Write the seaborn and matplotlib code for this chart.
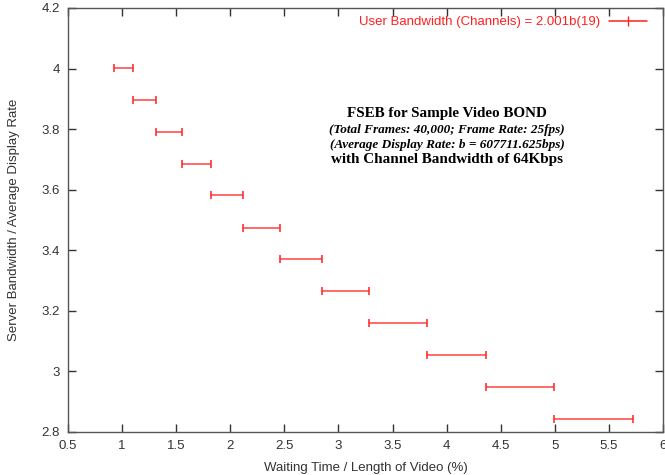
import matplotlib
matplotlib.use("Agg")
import matplotlib.pyplot as plt
import seaborn as sns
import pandas as pd
from matplotlib.lines import Line2D

# Data
ratio = [4.002, 3.897, 3.791, 3.686, 3.581, 3.475, 3.370, 3.265, 3.159, 3.054, 2.949, 2.843]
wait_low = [0.927, 1.100, 1.312, 1.553, 1.818, 2.115, 2.460, 2.850, 3.286, 3.815, 4.360, 4.988]
wait_high = [1.100, 1.312, 1.553, 1.818, 2.115, 2.460, 2.850, 3.286, 3.815, 4.360, 4.988, 5.723]

x_ticks = [0.5, 1, 1.5, 2, 2.5, 3, 3.5, 4, 4.5, 5, 5.5, 6]
x_tick_labels = ["0.5", "1", "1.5", "2", "2.5", "3", "3.5", "4", "4.5", "5", "5.5", "6"]
y_ticks = [2.8, 3, 3.2, 3.4, 3.6, 3.8, 4, 4.2]
y_tick_labels = ["2.8", "3", "3.2", "3.4", "3.6", "3.8", "4", "4.2"]

legend_label = "User Bandwidth (Channels) = 2.001b(19)"
title_lines = [
    ("FSEB for Sample Video BOND", "normal", 10.9),
    ("(Total Frames: 40,000; Frame Rate: 25fps)", "italic", 9.5),
    ("(Average Display Rate: b = 607711.625bps)", "italic", 9.5),
    ("with Channel Bandwidth of 64Kbps", "normal", 10.9),
]

df = pd.DataFrame({"low": wait_low, "high": wait_high, "ratio": ratio})
ends = pd.DataFrame({"x": wait_low + wait_high, "y": ratio + ratio})

sns.set_theme(style="white")
plt.rcParams["font.family"] = ["Liberation Sans", "DejaVu Sans"]

fig = plt.figure(figsize=(6.65, 4.75), dpi=100)
ax = fig.add_axes([68 / 665, 1 - 432 / 475, (663 - 68) / 665, (432 - 8) / 475])

red = "#ff2020"
ax.hlines(df["ratio"], df["low"], df["high"], color=red, lw=1.1, alpha=0.85)
sns.scatterplot(data=ends, x="x", y="y", marker="|", s=30, color=red,
                linewidth=1.1, ax=ax, legend=False, zorder=3)

ax.set_xlim(0.5, 6)
ax.set_ylim(2.8, 4.2)
ax.set_xticks(x_ticks)
ax.set_xticklabels(x_tick_labels)
ax.set_yticks(y_ticks)
ax.set_yticklabels(y_tick_labels)
ax.tick_params(direction="in", length=6, width=1, color="#333333",
               labelsize=9.5, labelcolor="#333333",
               top=True, right=True, bottom=True, left=True, pad=6)
for s in ax.spines.values():
    s.set_visible(True)
    s.set_color("#555555")
    s.set_linewidth(1.0)

ax.set_xlabel("Waiting Time / Length of Video (%)", fontsize=9.5, color="#333333", labelpad=7)
ax.set_ylabel("Server Bandwidth / Average Display Rate", fontsize=9.5, color="#333333", labelpad=15)

handle = Line2D([0], [0], color=red, lw=1.1, marker="|", markersize=7)
leg = ax.legend([handle], [legend_label], loc="upper right", frameon=False,
                fontsize=9.5, handlelength=2.9, handletextpad=0.65,
                borderaxespad=0, borderpad=0,
                bbox_to_anchor=((647 - 68) / 595, 1 - 8 / 424),
                labelcolor=red, markerfirst=False)

ys = [114, 129.5, 145, 160]
for (txt, style, size), yp in zip(title_lines, ys):
    fig.text(447 / 665, 1 - yp / 475, txt, ha="center", va="center",
             fontsize=size, fontweight="bold", fontstyle=style,
             family=["Liberation Serif", "DejaVu Serif"], color="black")

fig.savefig("out.png", dpi=100)
